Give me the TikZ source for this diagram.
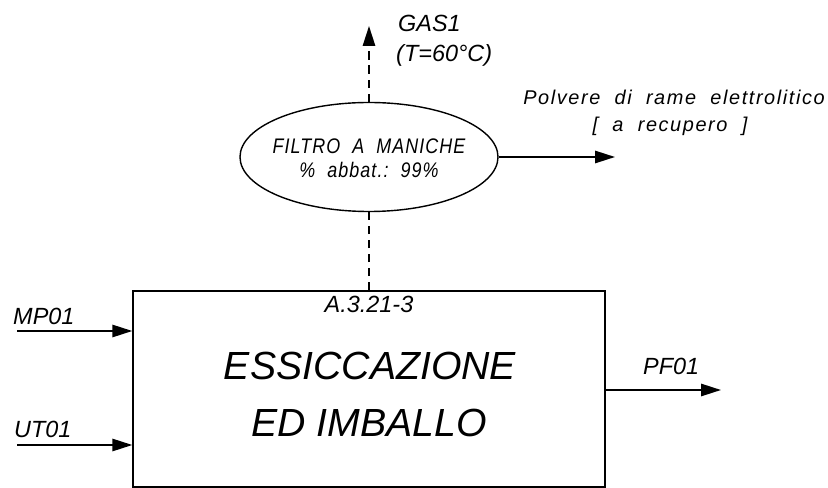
\documentclass[tikz,border=0pt]{standalone}
\usepackage{fontspec}
\setmainfont{Liberation Sans}
\newfontfamily\ellfont{Liberation Sans}[FakeStretch=0.85,LetterSpace=5]
\newfontfamily\spacedfont{Liberation Sans}[LetterSpace=8]
\usetikzlibrary{positioning,shapes.geometric,arrows.meta}

\begin{document}
\begin{tikzpicture}[
    x=0.03cm, y=0.03cm,
    proc/.style={draw, line width=1.2pt, minimum width=14.16cm, minimum height=5.88cm, inner sep=0pt},
    filt/.style={draw, ellipse, line width=1.2pt, minimum width=7.74cm, minimum height=3.27cm, inner sep=0pt},
    lbl/.style={inner sep=0pt, font=\fontsize{20}{24}\selectfont\itshape},
    biglbl/.style={inner sep=0pt, font=\fontsize{33.5}{40}\selectfont\itshape},
    elllbl/.style={inner sep=0pt, font=\ellfont\fontsize{18}{22}\selectfont\itshape},
    smlbl/.style={inner sep=0pt, font=\spacedfont\fontsize{17}{20}\selectfont\itshape},
    flow/.style={line width=1.6pt, -{Triangle[length=17pt,width=10.5pt]}},
    flowd/.style={flow, dash pattern=on 7pt off 5pt},
    dashln/.style={line width=1.6pt, dash pattern=on 7pt off 5pt}
]
    \useasboundingbox (0,0) rectangle (828,-488);

    \node[proc] (essic) at (369,-389) {};
    \node[filt] (filtro) at (369,-157) {};

    \node[biglbl, anchor=base] (essicl1) at (370,-380) {ESSICCAZIONE};
    \node[biglbl, anchor=base] (essicl2) at (369,-437) {ED IMBALLO};
    \node[lbl, anchor=base] (codice) at (369,-313) {A.3.21-3};

    \node[elllbl, anchor=base] (filtl1) at (369,-154) {FILTRO~~A~~MANICHE};
    \node[elllbl, anchor=base] (filtl2) at (369,-178) {\%~~abbat.:~~99\%};

    % ingressi
    \coordinate (mp01) at (17,-331);
    \coordinate (ut01) at (17,-445);
    \node[lbl, anchor=base west] (mp01lbl) at (13,-325) {MP01};
    \node[lbl, anchor=base west] (ut01lbl) at (14,-438) {UT01};
    \draw[flow] (mp01) -- (mp01 -| essic.west);
    \draw[flow] (ut01) -- (ut01 -| essic.west);

    % uscita
    \coordinate (pf01) at (721,-390);
    \node[lbl, anchor=base west] (pf01lbl) at (643,-375) {PF01};
    \draw[flow] (pf01 -| essic.east) -- (pf01);

    % filtro
    \draw[dashln] (essic.north) -- (filtro.south);
    \coordinate (gas1) at (369,-26);
    \draw[flowd] (filtro.north) -- (gas1);
    \node[lbl, anchor=base west] (gaslbl) at (398,-32) {GAS1};
    \node[lbl, anchor=base west] (templbl) at (396,-62) {(T=60°C)};

    \coordinate (polv) at (615,-157);
    \draw[flow] (filtro.east) -- (polv);
    \node[smlbl, anchor=base east] (polvl1) at (825,-105) {Polvere~~di~~rame~~elettrolitico};
    \node[smlbl, anchor=base] (polvl2) at (670,-132) {[~~a~~recupero~~]};
\end{tikzpicture}
\end{document}
